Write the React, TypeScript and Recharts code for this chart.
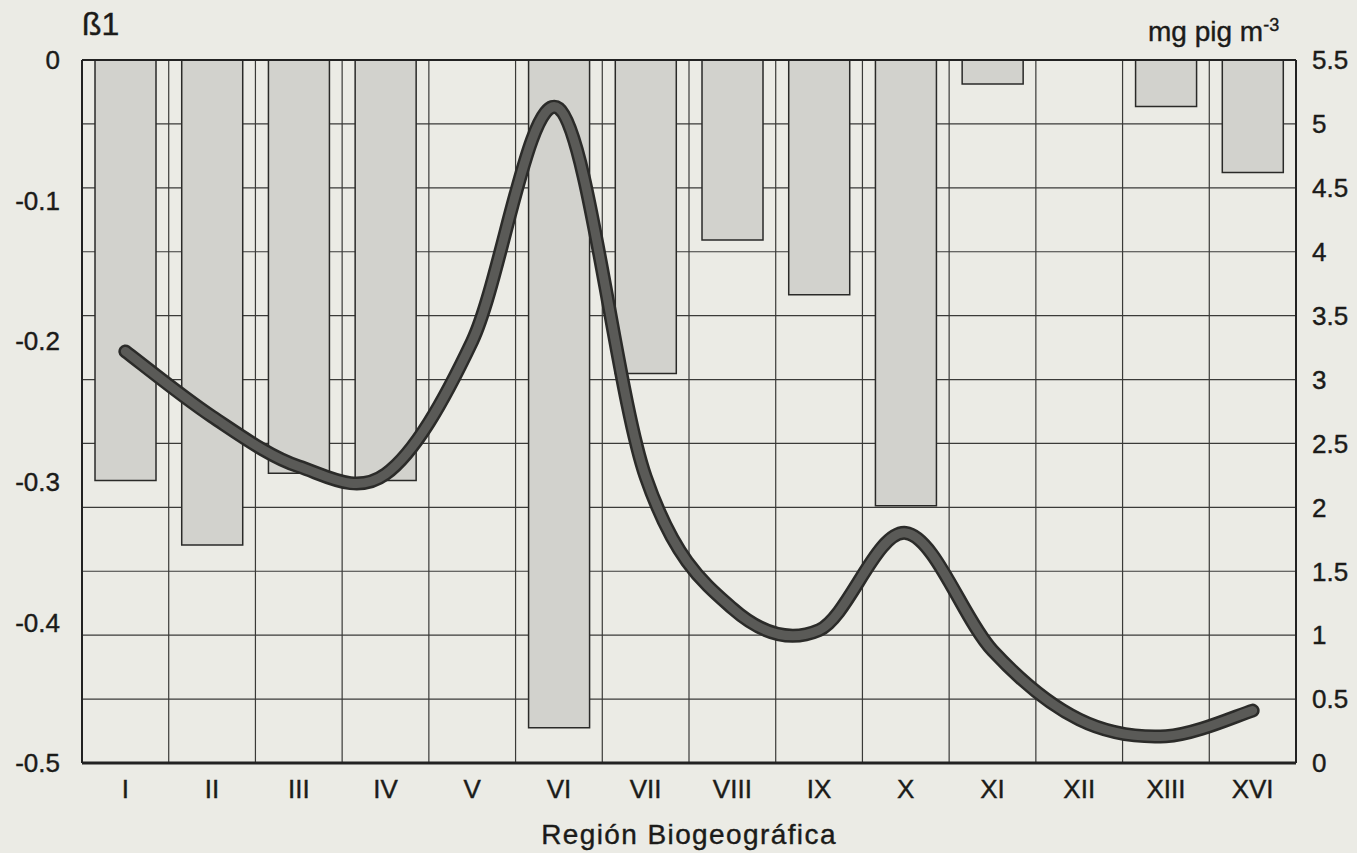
import {
  Bar,
  CartesianGrid,
  ComposedChart,
  Label,
  Line,
  ReferenceLine,
  XAxis,
  YAxis,
} from "recharts";

const CATEGORIES = ["I", "II", "III", "IV", "V", "VI", "VII", "VIII", "IX", "X", "XI", "XII", "XIII", "XVI"];

// β1 coefficient (left axis), bars hang from 0
const BETA = [-0.299, -0.345, -0.294, -0.299, null, -0.475, -0.223, -0.128, -0.167, -0.317, -0.017, null, -0.033, -0.08];

// pigment concentration, mg pig m-3 (right axis)
const PIGMENT = [3.22, 2.71, 2.32, 2.26, 3.3, 5.12, 2.24, 1.21, 1.04, 1.8, 0.88, 0.34, 0.21, 0.41];

const LEFT_TICKS = [0, -0.1, -0.2, -0.3, -0.4, -0.5];
const RIGHT_TICKS = [0, 0.5, 1, 1.5, 2, 2.5, 3, 3.5, 4, 4.5, 5, 5.5];

const FONT = "'Liberation Sans', Arial, sans-serif";
const INK = "#1b1b19";
const PAPER = "#ebebe5";

const tickStyle = { fontSize: 26, fill: INK, fontFamily: FONT, stroke: INK, strokeWidth: 0.4 };

const data = CATEGORIES.map((name, i) => ({
  name,
  beta: BETA[i],
  pig: PIGMENT[i],
}));

// spreadsheet-style smoothed line (Catmull-Rom through every point)
function smoothCurve(context: any) {
  let xs: number[] = [];
  let ys: number[] = [];
  return {
    areaStart() {},
    areaEnd() {},
    lineStart() {
      xs = [];
      ys = [];
    },
    point(x: number, y: number) {
      xs.push(+x);
      ys.push(+y);
    },
    lineEnd() {
      const n = xs.length;
      if (!n) return;
      context.moveTo(xs[0], ys[0]);
      for (let i = 0; i < n - 1; i++) {
        const a = Math.max(i - 1, 0);
        const d = Math.min(i + 2, n - 1);
        context.bezierCurveTo(
          xs[i] + (xs[i + 1] - xs[a]) / 6,
          ys[i] + (ys[i + 1] - ys[a]) / 6,
          xs[i + 1] - (xs[d] - xs[i]) / 6,
          ys[i + 1] - (ys[d] - ys[i]) / 6,
          xs[i + 1],
          ys[i + 1]
        );
      }
    },
  };
}

export default function App() {
  return (
    <div
      style={{
        position: "absolute",
        left: 0,
        top: 0,
        width: 1357,
        height: 853,
        background: PAPER,
        fontFamily: FONT,
        color: INK,
      }}
    >
      <div style={{ position: "absolute", left: 82, top: 2, fontSize: 32, lineHeight: "44px", WebkitTextStroke: "0.4px " + INK }}>
        ß1
      </div>
      <div style={{ position: "absolute", left: 1148, top: 6, fontSize: 28, lineHeight: "38px", WebkitTextStroke: "0.4px " + INK }}>
        mg pig m<sup style={{ fontSize: 18, verticalAlign: "10px" }}>-3</sup>
      </div>
      <ComposedChart
        width={1357}
        height={853}
        data={data}
        margin={{ top: 60, right: 0, bottom: 0, left: 0 }}
        barCategoryGap="15%"
      >
        <CartesianGrid
          yAxisId="right"
          stroke="#3a3a38"
          strokeWidth={1.2}
          verticalCoordinatesGenerator={({ offset }: any) => {
            const step = offset.width / CATEGORIES.length;
            return CATEGORIES.map((_, i) => offset.left + i * step).concat(offset.left + offset.width);
          }}
        />
        <XAxis
          dataKey="name"
          height={90}
          tickLine={false}
          tickSize={0}
          tickMargin={17}
          axisLine={{ stroke: "#222", strokeWidth: 3 }}
          tick={tickStyle}
          interval={0}
        >
          <Label
            value="Región Biogeográfica"
            position="insideBottom"
            offset={9}
            style={{ fontSize: 28, fill: INK, fontFamily: FONT, letterSpacing: 1.4, stroke: INK, strokeWidth: 0.4 }}
          />
        </XAxis>
        <YAxis
          yAxisId="left"
          orientation="left"
          width={82}
          domain={[-0.5, 0]}
          ticks={LEFT_TICKS}
          interval={0}
          tickLine={false}
          tickSize={0}
          tickMargin={22}
          axisLine={{ stroke: "#222", strokeWidth: 2 }}
          tick={tickStyle}
        />
        <YAxis
          yAxisId="right"
          orientation="right"
          width={61}
          domain={[0, 5.5]}
          ticks={RIGHT_TICKS}
          interval={0}
          tickLine={false}
          tickSize={0}
          tickMargin={16}
          axisLine={{ stroke: "#222", strokeWidth: 2 }}
          tick={{ ...tickStyle, textAnchor: "start" }}
        />
        <Bar
          yAxisId="left"
          dataKey="beta"
          fill="#d2d2cd"
          stroke="#2a2a28"
          strokeWidth={1.5}
          isAnimationActive={false}
        />
        <ReferenceLine yAxisId="left" y={0} stroke="#222" strokeWidth={2} />
        <Line
          yAxisId="right"
          type={smoothCurve as any}
          dataKey="pig"
          stroke="#2b2b29"
          strokeWidth={14}
          strokeLinecap="round"
          dot={false}
          activeDot={false}
          isAnimationActive={false}
        />
        <Line
          yAxisId="right"
          type={smoothCurve as any}
          dataKey="pig"
          stroke="#5a5a57"
          strokeWidth={9}
          strokeLinecap="round"
          dot={false}
          activeDot={false}
          isAnimationActive={false}
        />
      </ComposedChart>
    </div>
  );
}
